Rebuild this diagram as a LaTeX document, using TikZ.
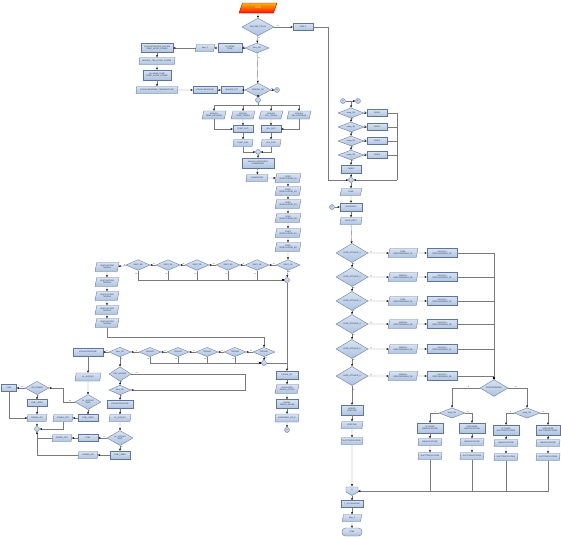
\documentclass[tikz,border=0pt]{standalone}
\usepackage{fontspec}
\setmainfont{Liberation Sans}
\usetikzlibrary{shapes.geometric,arrows.meta}
\definecolor{boxf}{HTML}{AFC3E0}
\definecolor{boxt}{HTML}{D8E2F1}
\definecolor{bord}{HTML}{5E7699}
\definecolor{linec}{HTML}{7A7A7A}
\definecolor{txt}{HTML}{1F2F4F}
\tikzset{
 nodebase/.style={draw=bord, line width=0.35pt, top color=boxt, bottom color=boxf, inner sep=0pt, font=\fontsize{2}{2.3}\selectfont, text=txt, align=center},
 bx/.style={nodebase, rectangle},
 pg/.style={nodebase, trapezium, trapezium left angle=72, trapezium right angle=108, trapezium stretches=true},
 dm/.style={nodebase, diamond},
 cc/.style={nodebase, circle, minimum size=5pt},
 ar/.style={draw=linec, line width=0.4pt, -{Stealth[length=2.4pt,width=2pt,color=black]}},
 ln/.style={draw=linec, line width=0.4pt},
 lbl/.style={font=\fontsize{1.8}{2}\selectfont, text=txt, inner sep=0.4pt},
}
\newcommand{\Bx}[5]{\node[bx,minimum width=#3pt,minimum height=#4pt] (#1) at (#2) {#5};}
\newcommand{\Pg}[5]{\node[pg,minimum width=#3pt,minimum height=#4pt] (#1) at (#2) {#5};}
\newcommand{\Dm}[5]{\node[dm,minimum width=#3pt,minimum height=#4pt] (#1) at (#2) {#5};}
\newcommand{\Cc}[3]{\node[cc] (#1) at (#2) {#3};}
\begin{document}
\begin{tikzpicture}[x=1pt,y=-1pt]
\useasboundingbox[fill=white] (0,0) rectangle (561,538);
% ---------------- top
\node[pg, top color=orange!60!yellow, bottom color=red!85!orange, draw=red!60!black, minimum width=38pt, minimum height=10pt, text=white, trapezium left angle=65, trapezium right angle=115] (start) at (258,8) {INIZIO};
\Dm{d1}{258,27}{32}{14}{FALLIME\_TOLLO}
\Bx{fine2}{303,27}{20}{7}{FINE 2}
\Dm{d2}{257,48}{24}{10}{time\_OK}
\Bx{al1}{230,48}{24}{9}{ALLARME\\TEMP}
\Pg{t2}{205,48}{20}{7}{time\_2}
\Bx{vis1}{157,48}{32}{9}{VISUALIZZAZIONE\_MISURE\\TEMP\_ALTRE\_CORRE}
\Pg{p1}{157,61}{36}{7}{MISURA\_TEN\_ALTRE\_CORRE}
\Bx{b2}{157,75}{28}{10}{ALLARME\_TEMP\\TEMP\_ALTRE\_CORRE}
\Pg{p2}{157,90}{42}{7}{VISUALIZZAZIONE\_TEMPERATURE}
\Bx{b3}{205,90}{24}{7}{VISUALIZZAZIONE}
\Bx{b4}{232,90}{22}{7}{MISURE\_TOT}
\Dm{d3}{258,90}{26}{11}{MISURE\_OK}
\Cc{c1}{277,90}{B}
\Cc{c2}{258,100}{}
\coordinate (f1) at (258,105);
\Pg{pa}{214,115}{24}{8}{MISURA\\TEMP\_ESTERNA}
\Pg{pb}{243,115}{24}{8}{MISURA\\TEMP\_TERRA}
\Pg{pc}{271,115}{24}{8}{MISURA\\VEL\_TERRA}
\Pg{pd}{299,115}{24}{8}{MISURA\\VEL\_ESTERNA}
\Bx{ta}{243,129}{20}{7}{TEMP\_DATI}
\Bx{tb}{271,129}{20}{7}{VEL\_DATI}
\Pg{fa}{243,143}{20}{7}{TEMP\_FISS}
\Pg{fb}{271,143}{20}{7}{VEL\_FISS}
\Cc{c3}{258,152}{}
\Bx{an}{258,163}{32}{10}{ANALISI\_PERCORSO\\POMODORO}
\Pg{po}{257,178}{22}{7}{POMODORO}
\Pg{q1}{288,178}{26}{9}{PESO\\VENTILATORE\_1A}
\Pg{q2}{288,191}{26}{9}{PESO\\VENTILATORE\_1B}
\Pg{q3}{288,204}{26}{9}{PESO\\VENTILATORE\_2A}
\Pg{q4}{288,218}{26}{9}{PESO\\VENTILATORE\_2B}
\Pg{q5}{288,233}{26}{9}{PESO\\VENTILATORE\_3A}
\Pg{q6}{288,247}{26}{9}{PESO\\VENTILATORE\_3B}
% row 1
\Dm{r1}{288,265}{24}{10}{VENT\_1A}
\Dm{r2}{257,265}{24}{10}{VENT\_1B}
\Dm{r3}{228,265}{24}{10}{VENT\_2A}
\Dm{r4}{197,265}{24}{10}{VENT\_2B}
\Dm{r5}{168,265}{24}{10}{VENT\_3A}
\Dm{r6}{138,265}{24}{10}{VENT\_3B}
\Cc{m1}{287,280}{}
\Pg{s1}{107,267}{24}{9}{VENTILATORE\\TERRA1}
\Pg{s2}{107,282}{24}{9}{VENTILATORE\\TERRA2}
\Pg{s3}{107,296}{24}{9}{VENTILATORE\\TERRA3}
\Pg{s4}{107,310}{24}{9}{VENTILATORE\\TERRA4}
\Pg{s5}{107,323}{24}{9}{VENTILATORE\\TERRA5}
\coordinate (k337) at (264,337);
% row 2
\Dm{u1}{264,352}{22}{9}{TERRA5}
\Dm{u2}{235,352}{22}{9}{TERRA4}
\Dm{u3}{207,352}{22}{9}{TERRA3}
\Dm{u4}{178,352}{22}{9}{TERRA2}
\Dm{u5}{150,352}{22}{9}{TERRA1}
\Dm{u6}{120,352}{22}{9}{time\_OK}
\Cc{m2}{264,363}{}
\Bx{v1}{88,352}{30}{8}{VISUALIZZAZIONE}
\Pg{v2}{88,377}{26}{8}{AL\_ACQUIS}
\Dm{v3}{88,402}{26}{11}{AL\_ACQUIS\\SINO}
\Bx{v4}{88,418}{20}{7}{FINE\_LIBER}
\Pg{v5}{63,418}{20}{7}{POMPA\_OFF}
\Dm{w1}{37,388}{24}{9}{VIS\_POMPA}
\Bx{w0}{9,388}{15}{7}{FINE}
\Bx{w2}{37,403}{20}{7}{FINE\_LIBER}
\Pg{w3}{37,418}{20}{7}{POMPA\_ON}
\Cc{m3}{37,429}{}
\coordinate (kk1) at (63,402);
\coordinate (kk2) at (63,388);
\Dm{x1}{120,374}{22}{9}{VEL\_ACQUIS}
\Dm{x2}{120,390}{22}{9}{time\_OK}
\Bx{x3}{120,404}{26}{8}{VISUALIZZAZIONE}
\Pg{x4}{120,418}{22}{7}{AL\_ACQUIS}
\Dm{x5}{120,438}{26}{11}{AL\_ACQUIS\\SINO}
\Bx{x6}{88,438}{20}{7}{FINE}
\Pg{x7}{62,438}{20}{7}{POMPA\_OFF}
\Bx{x8}{120,455}{20}{8}{FINE\_LIBER}
\Pg{x9}{88,455}{20}{7}{POMPA\_ON}
\coordinate (lp1) at (245,374);
\coordinate (lp2) at (245,390);
% middle end
\Bx{pa2}{287,375}{22}{8}{PAUSA\_OK}
\Pg{pb2}{287,389}{24}{9}{VISUALIZZA\\PAUSA\_ATTIVA}
\Bx{pc2}{287,404}{22}{9}{PAUSA\\TEMPO\_PAUSA}
\Pg{pd2}{287,418}{24}{8}{AGGIORNA\_VIS\_P}
\Cc{ce}{287,430}{A}
% ---------------- right column
\Cc{k1}{343,101}{A}
\Cc{k2}{358,101}{B}
\coordinate (kj) at (351,101);
\Dm{e1}{351,113}{26}{9}{temp\_OK}
\Dm{e2}{351,127}{26}{9}{temp\_1H}
\Dm{e3}{351,141}{26}{9}{temp\_2H}
\Dm{e4}{351,155}{26}{9}{temp\_3H}
\Bx{g1}{377,113}{20}{7}{FASE1}
\Bx{g2}{377,127}{20}{7}{FASE2}
\Bx{g3}{377,141}{20}{7}{FASE3}
\Bx{g4}{377,155}{20}{7}{FASE4}
\Bx{eb}{351,169}{20}{8}{FASE0}
\Cc{cm}{351,180}{}
\coordinate (rv) at (397,180);
\coordinate (lv) at (328,180);
\Pg{h1}{351,192}{22}{7}{FASE}
\Bx{h2}{351,207}{22}{8}{AGGIORNA}
\Cc{kc}{332,207}{C}
\Pg{h3}{351,221}{22}{7}{FASE\_DEST}
\Dm{j1}{352,253}{32}{11}{FASE\_ATTUALE\_1}
\Dm{j2}{352,277}{32}{11}{FASE\_ATTUALE\_2}
\Dm{j3}{352,301}{32}{11}{FASE\_ATTUALE\_3}
\Dm{j4}{352,324}{32}{11}{FASE\_ATTUALE\_4}
\Dm{j5}{352,349}{32}{11}{FASE\_ATTUALE\_5}
\Dm{j6}{352,376}{32}{11}{FASE\_ATTUALE\_6}
\Pg{P1}{403,253}{30}{9}{FASE\\PERCORRENZA\_1A}
\Pg{P2}{403,277}{30}{9}{MISURA\\PERCORRENZA\_1B}
\Pg{P3}{403,301}{30}{9}{FASE\\PERCORRENZA\_2A}
\Pg{P4}{403,324}{30}{9}{MISURA\\PERCORRENZA\_2B}
\Pg{P5}{403,349}{30}{9}{MISURA\\PERCORRENZA\_3A}
\Pg{P6}{403,376}{30}{9}{MISURA\\PERCORRENZA\_3B}
\Bx{Q1}{442,253}{30}{9}{CALCOLA\\PERCORRENZA\_1A}
\Bx{Q2}{442,277}{30}{9}{CALCOLA\\PERCORRENZA\_1B}
\Bx{Q3}{442,301}{30}{9}{CALCOLA\\PERCORRENZA\_2A}
\Bx{Q4}{442,324}{30}{9}{CALCOLA\\PERCORRENZA\_2B}
\Bx{Q5}{442,349}{30}{9}{CALCOLA\\PERCORRENZA\_3A}
\Bx{Q6}{442,376}{30}{9}{CALCOLA\\PERCORRENZA\_3B}
\Dm{z0}{494,388}{28}{10}{PERCORRENZA}
\Dm{zl}{452,413}{26}{9}{temp\_OK}
\Dm{zr}{527,413}{26}{9}{temp\_OK}
\Bx{L1}{430,428}{26}{10}{ATTIVARE\\UMIDIFICATORE}
\Pg{L2}{430,442}{24}{7}{UMIDIFICATORE}
\Pg{L3}{430,456}{24}{7}{ELETTRIFICATORE}
\Bx{M1}{472,428}{26}{10}{SPEGNERE\\UMIDIFICATORE}
\Pg{M2}{472,442}{24}{7}{UMIDIFICATORE}
\Pg{M3}{472,456}{24}{7}{ELETTRIFICATORE}
\Bx{N1}{506,430}{26}{10}{ATTIVARE\\ELETTRIFICATORE}
\Pg{N2}{506,443}{24}{7}{UMIDIFICATORE}
\Pg{N3}{506,457}{24}{7}{ELETTRIFICATORE}
\Bx{O1}{548,430}{24}{10}{SPEGNERE\\ELETTRIFICATORE}
\Pg{O2}{548,443}{24}{7}{UMIDIFICATORE}
\Pg{O3}{548,457}{24}{7}{ELETTRIFICATORE}
\Bx{a1}{352,410}{22}{10}{APRIRE\\VENTOSE}
\Pg{a2}{352,425}{22}{7}{VENTOSE}
\Pg{a3}{352,441}{22}{7}{ELETTRIFICATORE}
\node[minimum width=12pt, minimum height=9pt, inner sep=0pt] (zm) at (352,491) {};
\draw[draw=bord, line width=0.35pt, top color=boxt, bottom color=boxf] (346,487) -- (358,487) -- (358,492) -- (352,495.5) -- (346,492) -- cycle;
\node[lbl] at (352,490) {D};
\Bx{b1}{352,504}{22}{7}{T\_ACCENSIONE}
\Pg{b2x}{352,518}{20}{7}{time\_2}
\node[bx, rounded corners=3.5pt, minimum width=20pt, minimum height=8pt] (b3x) at (352,532) {FINE};
% ---------------- connectors: top
\draw[ar] (start) -- (d1);
\draw[ar] (d1.east) -- node[lbl,above,pos=0.2]{si} (fine2.west);
\draw[ar] (d1) -- node[lbl,right,pos=0.3]{no} (d2);
\draw[ar] (d2.west) -- node[lbl,above,pos=0.3]{si} (al1.east);
\draw[ar] (al1) -- (t2);
\draw[ar] (t2) -- (vis1);
\draw[ar] (vis1) -- (p1);
\draw[ar] (p1) -- (b2);
\draw[ar] (b2) -- (p2);
\draw[ar] (p2) -- (b3);
\draw[ar] (b3) -- (b4);
\draw[ar] (b4) -- (d3);
\draw[ar] (d2) -- node[lbl,right,pos=0.15]{no} (d3);
\draw[ar] (d3.east) -- node[lbl,above,pos=0.3]{no} (c1);
\draw[ar] (d3) -- node[lbl,right,pos=0.3]{si} (c2);
\draw[ln] (c2) -- (f1);
\draw[ar] (f1) -| (pa);
\draw[ar] (f1) -| (pb);
\draw[ar] (f1) -| (pc);
\draw[ar] (f1) -| (pd);
\draw[ar] (pa.south) |- (ta.west);
\draw[ar] (pb) -- (ta);
\draw[ar] (pc) -- (tb);
\draw[ar] (pd.south) |- (tb.east);
\draw[ar] (ta) -- (fa);
\draw[ar] (tb) -- (fb);
\draw[ar] (fa.south) |- (c3.west);
\draw[ar] (fb.south) |- (c3.east);
\draw[ar] (c3) -- (an);
\draw[ar] (an) -- (po);
\draw[ar] (po) -- (q1);
\draw[ar] (q1) -- (q2);
\draw[ar] (q2) -- (q3);
\draw[ar] (q3) -- (q4);
\draw[ar] (q4) -- (q5);
\draw[ar] (q5) -- (q6);
\draw[ar] (q6) -- (r1);
% row 1
\draw[ar] (r1) -- node[lbl,above,pos=0.3]{si} (r2);
\draw[ar] (r2) -- node[lbl,above,pos=0.3]{si} (r3);
\draw[ar] (r3) -- node[lbl,above,pos=0.3]{si} (r4);
\draw[ar] (r4) -- node[lbl,above,pos=0.3]{si} (r5);
\draw[ar] (r5) -- node[lbl,above,pos=0.3]{si} (r6);
\draw[ar] (r6) -- node[lbl,above,pos=0.3]{si} (s1);
\draw[ar] (r1) -- node[lbl,right,pos=0.3]{no} (m1);
\draw[ar] (r2.south) |- node[lbl,left,pos=0.2]{no} (m1.west);
\draw[ar] (r3.south) |- node[lbl,left,pos=0.2]{no} (m1.west);
\draw[ar] (r4.south) |- node[lbl,left,pos=0.2]{no} (m1.west);
\draw[ar] (r5.south) |- node[lbl,left,pos=0.2]{no} (m1.west);
\draw[ar] (r6.south) |- node[lbl,left,pos=0.2]{no} (m1.west);
\draw[ar] (s1) -- (s2);
\draw[ar] (s2) -- (s3);
\draw[ar] (s3) -- (s4);
\draw[ar] (s4) -- (s5);
\draw[ar] (s5.south) |- (k337) -- (u1.north);
\draw[ar] (m1) -- (pa2);
% row 2
\draw[ar] (u1) -- node[lbl,above,pos=0.3]{si} (u2);
\draw[ar] (u2) -- node[lbl,above,pos=0.3]{si} (u3);
\draw[ar] (u3) -- node[lbl,above,pos=0.3]{si} (u4);
\draw[ar] (u4) -- node[lbl,above,pos=0.3]{si} (u5);
\draw[ar] (u5) -- node[lbl,above,pos=0.3]{si} (u6);
\draw[ar] (u1) -- node[lbl,right,pos=0.2]{no} (m2);
\draw[ar] (u2.south) |- node[lbl,left,pos=0.2]{no} (m2.west);
\draw[ar] (u3.south) |- node[lbl,left,pos=0.2]{no} (m2.west);
\draw[ar] (u4.south) |- node[lbl,left,pos=0.2]{no} (m2.west);
\draw[ar] (u5.south) |- node[lbl,left,pos=0.2]{no} (m2.west);
\draw[ln] (m2.east) -- (m2.east -| m1.south);
\draw[ar] (u6) -- node[lbl,above,pos=0.3]{si} (v1);
\draw[ar] (v1) -- (v2);
\draw[ar] (v2) -- (v3);
\draw[ar] (v3) -- node[lbl,right,pos=0.3]{si} (v4);
\draw[ar] (v4) -- (v5);
\draw[ar] (v5.south) |- (m3.east);
\draw[ar] (v3.west) -- node[lbl,above,pos=0.4]{no} (kk1) -- (kk2) -- (w1.east);
\draw[ar] (w1) -- node[lbl,above,pos=0.3]{no} (w0);
\draw[ar] (w1) -- node[lbl,right,pos=0.2]{si} (w2);
\draw[ar] (w2) -- (w3);
\draw[ar] (w3) -- (m3);
\draw[ar] (w0.south) |- (w3.west);
\draw[ar] (u6) -- node[lbl,right,pos=0.2]{no} (x1);
\draw[ar] (x1) -- node[lbl,right,pos=0.2]{si} (x2);
\draw[ar] (x2) -- node[lbl,right,pos=0.2]{si} (x3);
\draw[ar] (x3) -- (x4);
\draw[ar] (x4) -- (x5);
\draw[ar] (x5) -- node[lbl,above,pos=0.3]{si} (x6);
\draw[ar] (x6) -- (x7);
\draw[ln] (x7.west) -- (x7.west -| m3.south);
\draw[ar] (x5) -- node[lbl,right,pos=0.2]{no} (x8);
\draw[ar] (x8) -- (x9);
\draw[ar] (x9.west) -| (m3.south);
\draw[ar] (x1.east) -- node[lbl,above,pos=0.05]{no} (lp1) -- (lp2) -- (x2.east);
% middle end
\draw[ar] (pa2) -- (pb2);
\draw[ar] (pb2) -- (pc2);
\draw[ar] (pc2) -- (pd2);
\draw[ar] (pd2) -- (ce);
% ---------------- connectors: right
\draw[ar] (fine2.east) -| (lv) -- (cm.west);
\draw[ar] (k1) -- (k2);
\draw[ar] (kj) -- (e1);
\draw[ar] (e1) -- node[lbl,right,pos=0.2]{no} (e2);
\draw[ar] (e2) -- node[lbl,right,pos=0.2]{no} (e3);
\draw[ar] (e3) -- node[lbl,right,pos=0.2]{no} (e4);
\draw[ar] (e4) -- node[lbl,right,pos=0.2]{no} (eb);
\draw[ar] (eb) -- (cm);
\draw[ar] (e1) -- node[lbl,above,pos=0.25]{si} (g1);
\draw[ar] (e2) -- node[lbl,above,pos=0.25]{si} (g2);
\draw[ar] (e3) -- node[lbl,above,pos=0.25]{si} (g3);
\draw[ar] (e4) -- node[lbl,above,pos=0.25]{si} (g4);
\draw[ln] (g1.east) -| (rv);
\draw[ln] (g2.east) -| (rv);
\draw[ln] (g3.east) -| (rv);
\draw[ln] (g4.east) -| (rv);
\draw[ar] (rv) -- (cm.east);
\draw[ar] (cm) -- (h1);
\draw[ar] (h1) -- (h2);
\draw[ar] (kc) -- (h2);
\draw[ar] (h2) -- (h3);
\draw[ar] (h3) -- (j1);
\draw[ar] (j1) -- node[lbl,right,pos=0.2]{no} (j2);
\draw[ar] (j2) -- node[lbl,right,pos=0.2]{no} (j3);
\draw[ar] (j3) -- node[lbl,right,pos=0.2]{no} (j4);
\draw[ar] (j4) -- node[lbl,right,pos=0.2]{no} (j5);
\draw[ar] (j5) -- node[lbl,right,pos=0.2]{no} (j6);
\draw[ar] (j6) -- node[lbl,right,pos=0.2]{no} (a1);
\foreach \i in {1,...,6}{
 \draw[ar] (j\i) -- node[lbl,above,pos=0.15]{si} (P\i);
 \draw[ar] (P\i) -- (Q\i);
 \draw[ar] (Q\i.east) -| (z0.north);
}
\draw[ar] (z0.west) -| node[lbl,above,pos=0.2]{si} (zl.north);
\draw[ar] (z0.east) -| node[lbl,above,pos=0.2]{no} (zr.north);
\draw[ar] (zl.west) -| node[lbl,above,pos=0.2]{si} (L1.north);
\draw[ar] (zl.east) -| node[lbl,above,pos=0.2]{no} (M1.north);
\draw[ar] (zr.west) -| node[lbl,above,pos=0.2]{si} (N1.north);
\draw[ar] (zr.east) -| node[lbl,above,pos=0.2]{no} (O1.north);
\draw[ar] (L1) -- (L2); \draw[ar] (L2) -- (L3);
\draw[ar] (M1) -- (M2); \draw[ar] (M2) -- (M3);
\draw[ar] (N1) -- (N2); \draw[ar] (N2) -- (N3);
\draw[ar] (O1) -- (O2); \draw[ar] (O2) -- (O3);
\draw[ln] (L3.south) |- (zm.east);
\draw[ln] (M3.south) |- (zm.east);
\draw[ln] (N3.south) |- (zm.east);
\draw[ar] (O3.south) |- (zm.east);
\draw[ar] (a1) -- (a2);
\draw[ar] (a2) -- (a3);
\draw[ar] (a3) -- (zm);
\draw[ar] (zm) -- (b1);
\draw[ar] (b1) -- (b2x);
\draw[ar] (b2x) -- (b3x);
\end{tikzpicture}
\end{document}
